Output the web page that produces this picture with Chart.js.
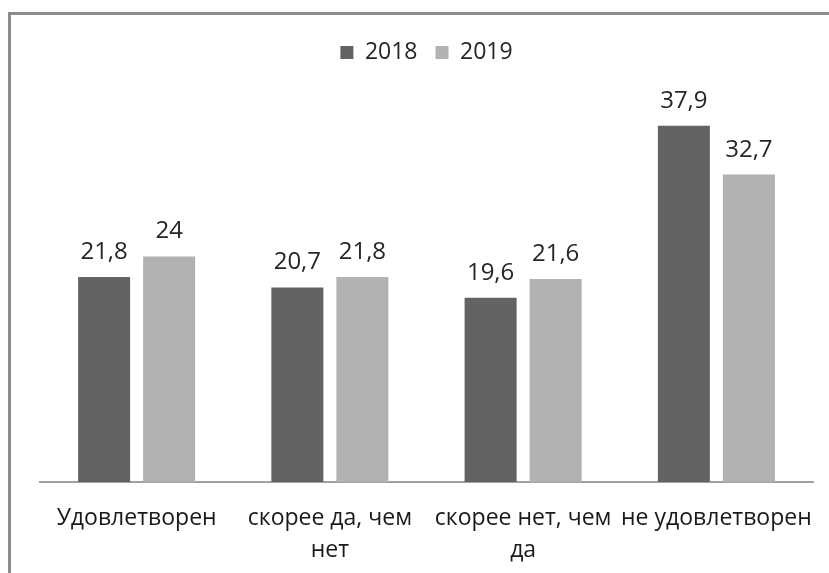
<!DOCTYPE html>
<html>
<head>
<meta charset="utf-8">
<script src="https://cdn.jsdelivr.net/npm/chart.js@4/dist/chart.umd.min.js"></script>
<style>
html,body{margin:0;padding:0;background:#fff;}
#wrap{width:829px;height:573px;position:relative;}
</style>
</head>
<body>
<div id="wrap"><canvas id="c" width="829" height="573"></canvas></div>
<script>
const categories = [["Удовлетворен"], ["скорее да, чем", "нет"], ["скорее нет, чем", "да"], ["не удовлетворен"]];
const seriesNames = ["2018", "2019"];
const values2018 = [21.8, 20.7, 19.6, 37.9];
const values2019 = [24, 21.8, 21.6, 32.7];
const colors = ["#636363", "#b2b2b2"];

const FONT = "'Open Sans', 'DejaVu Sans', sans-serif";

const frame = {
  id: 'frame',
  beforeDraw(chart) {
    const ctx = chart.ctx;
    ctx.save();
    ctx.fillStyle = '#fff';
    ctx.fillRect(0, 0, chart.width, chart.height);
    ctx.strokeStyle = '#8c8c8c';
    ctx.lineWidth = 3;
    ctx.beginPath();
    ctx.moveTo(9.5, chart.height + 5);
    ctx.lineTo(9.5, 13.5);
    ctx.lineTo(chart.width + 5, 13.5);
    ctx.stroke();
    ctx.restore();
  }
};

const legendHeight = {
  id: 'legendHeight',
  beforeInit(chart) {
    const lg = chart.legend;
    if (!lg) return;
    const orig = lg.fit;
    lg.fit = function () {
      orig.call(this);
      this.height = 83;
    };
  }
};

const valueLabels = {
  id: 'valueLabels',
  afterDatasetsDraw(chart) {
    const ctx = chart.ctx;
    ctx.save();
    ctx.font = "24px " + FONT;
    ctx.fillStyle = '#262626';
    ctx.textAlign = 'center';
    ctx.textBaseline = 'alphabetic';
    chart.data.datasets.forEach((ds, i) => {
      const meta = chart.getDatasetMeta(i);
      meta.data.forEach((bar, j) => {
        const txt = String(ds.data[j]).replace('.', ',');
        ctx.fillText(txt, bar.x, bar.y - 18);
      });
    });
    ctx.restore();
  }
};

new Chart(document.getElementById('c'), {
  type: 'bar',
  data: {
    labels: categories,
    datasets: [
      { label: seriesNames[0], data: values2018, backgroundColor: colors[0], borderWidth: 0 },
      { label: seriesNames[1], data: values2019, backgroundColor: colors[1], borderWidth: 0 }
    ]
  },
  options: {
    responsive: false,
    animation: false,
    devicePixelRatio: 1,
    categoryPercentage: 0.673,
    barPercentage: 0.8,
    layout: { padding: { left: 40, right: 16, top: 23, bottom: 0 } },
    plugins: {
      legend: {
        position: 'top',
        labels: {
          boxWidth: 13, boxHeight: 13, padding: 18,
          color: '#262626',
          font: { family: FONT, size: 23 }
        }
      },
      tooltip: { enabled: false }
    },
    scales: {
      x: {
        grid: { display: false, drawTicks: false },
        border: { display: true, color: '#a0a0a0', width: 2 },
        afterFit(scale) {
          scale.height = 91;
          scale.paddingLeft = 0;
          scale.paddingRight = 0;
        },
        ticks: {
          color: '#1a1a1a', padding: 20, maxRotation: 0, autoSkip: false,
          font: { family: FONT, size: 23, lineHeight: 1.39 }
        }
      },
      y: {
        display: false,
        min: 0, max: 40,
        grid: { display: false }
      }
    }
  },
  plugins: [frame, legendHeight, valueLabels]
});
</script>
</body>
</html>
